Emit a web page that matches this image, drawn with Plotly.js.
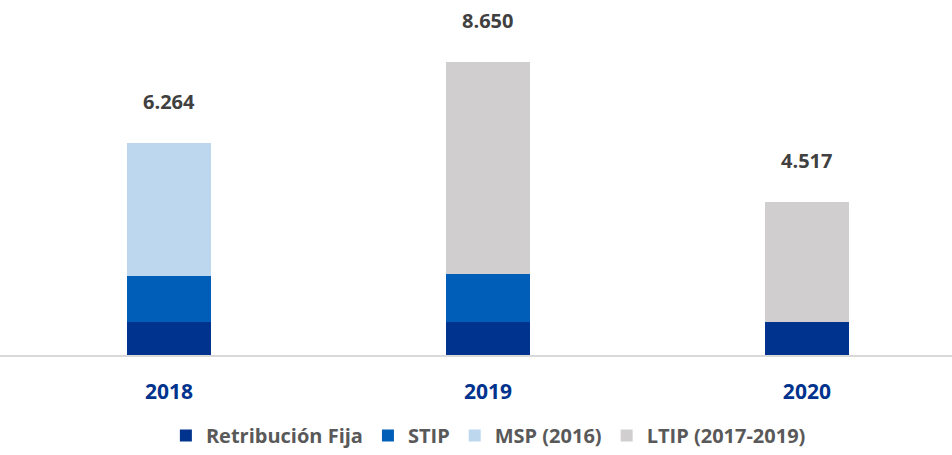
<!DOCTYPE html>
<html>
<head>
<meta charset="utf-8">
<script src="https://cdn.plot.ly/plotly-3.0.1.min.js"></script>
<style>html,body{margin:0;padding:0;background:#fff;}#chart{width:952px;height:455px;}</style>
</head>
<body>
<div id="chart"></div>
<script>
const years = ['2018', '2019', '2020'];
const fija = [985, 985, 960];
const stip = [1335, 1395, 0];
const msp = [3944, 0, 0];
const ltip = [0, 6270, 3557];
const totals = [6264, 8650, 4517];

const seriesNames = ['Retribución Fija', 'STIP', 'MSP (2016)', 'LTIP (2017-2019)'];
const seriesColors = ['#00338D', '#005EB8', '#BDD7EE', '#D0CECE'];
const seriesValues = [fija, stip, msp, ltip];

const FONT = 'Open Sans, Lato, sans-serif';

function fmt(v) {
  const s = String(Math.round(v));
  return s.replace(/\B(?=(\d{3})+(?!\d))/g, '.');
}

const traces = seriesValues.map((vals, i) => ({
  type: 'bar',
  name: seriesNames[i],
  x: years,
  y: vals,
  width: 0.263,
  marker: {color: seriesColors[i], line: {width: 0}},
  hoverinfo: 'x+y+name'
}));

const annotations = years.map((yr, i) => ({
  x: i, y: totals[i], xref: 'x', yref: 'y',
  text: fmt(totals[i]),
  showarrow: false, yanchor: 'middle', yshift: 41,
  font: {family: FONT, size: 20, color: '#404040', weight: 'bold'}
}));

const layout = {
  width: 952, height: 455,
  margin: {l: 0, r: 0, t: 0, b: 0},
  paper_bgcolor: '#ffffff', plot_bgcolor: '#ffffff',
  barmode: 'stack',
  separators: ',.',
  showlegend: true,
  legend: {
    orientation: 'h', x: 0.513, xanchor: 'center', y: 0, yanchor: 'bottom',
    font: {family: FONT, size: 20, color: '#595959', weight: 'bold'},
    traceorder: 'normal', itemclick: false, bgcolor: 'rgba(0,0,0,0)'
  },
  xaxis: {
    type: 'category', range: [-0.53, 2.455],
    showline: true, linecolor: '#D9D9D9', linewidth: 1.5,
    showgrid: false, zeroline: false, ticks: '',
    ticklabelstandoff: 17,
    tickfont: {family: FONT, size: 21, color: '#00338D', weight: 'bold'},
    fixedrange: true
  },
  yaxis: {
    domain: [100 / 455, 1],
    range: [0, 10472], visible: false, showgrid: false, zeroline: false, fixedrange: true
  },
  annotations: annotations
};

Plotly.newPlot('chart', traces, layout, {displayModeBar: false, staticPlot: true});
</script>
</body>
</html>
